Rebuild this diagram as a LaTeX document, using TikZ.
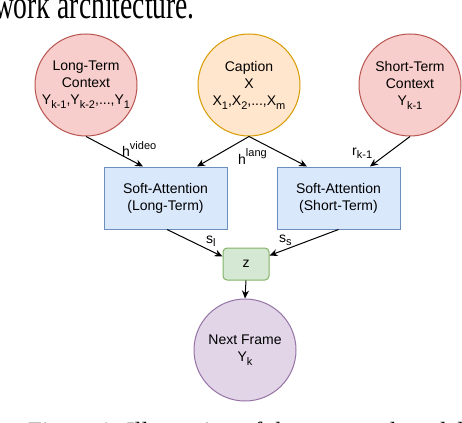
\documentclass[tikz,border=0pt]{standalone}
\usepackage{fontspec}
\setmainfont{Liberation Sans}
\newfontfamily\capfont{Liberation Serif}
\usetikzlibrary{arrows.meta}
\definecolor{redfill}{HTML}{F8CECC}
\definecolor{redline}{HTML}{B85450}
\definecolor{orafill}{HTML}{FFE6CC}
\definecolor{oraline}{HTML}{D79B00}
\definecolor{bluefill}{HTML}{DAE8FC}
\definecolor{blueline}{HTML}{6C8EBF}
\definecolor{grnfill}{HTML}{D5E8D4}
\definecolor{grnline}{HTML}{82B366}
\definecolor{purfill}{HTML}{E1D5E7}
\definecolor{purline}{HTML}{9673A6}
\newcommand\sbs[1]{\raisebox{-0.28em}{\fontsize{11}{11}\selectfont #1}}
\newcommand\sps[1]{\raisebox{0.5em}{\fontsize{11}{11}\selectfont #1}}
\begin{document}
\begin{tikzpicture}[x=1pt,y=-1pt,
  every node/.style={font=\fontsize{14}{17}\selectfont, text=black},
  circ/.style={circle, line width=1pt, minimum size=102pt, inner sep=0pt, align=center},
  abox/.style={rectangle, draw=blueline, fill=bluefill, line width=1pt, minimum width=123pt, minimum height=62pt, inner sep=0pt, align=center},
  zbox/.style={rectangle, rounded corners=4pt, draw=grnline, fill=grnfill, line width=1pt, minimum width=46pt, minimum height=32pt, inner sep=0pt},
  lbl/.style={anchor=base west, inner sep=0pt},
  arr/.style={-{Stealth[length=8pt,width=7pt]}, line width=1pt, black},
  captxt/.style={inner sep=0pt}
]
\useasboundingbox (0,0) rectangle (462,422);
% cropped surrounding text
\node[captxt, anchor=base east, font=\capfont\fontsize{27.6}{28}\selectfont] (toptext) at (195,18.5) {\scalebox{1}[1.45]{work architecture.}};
\node[captxt, anchor=base west, font=\capfont\fontsize{24.8}{25}\selectfont] (bottext) at (28,439) {Figure 1: Illustration of the proposed model};
% circles
\node[circ, draw=redline, fill=redfill] (lt) at (86,85) {Long-Term\\Context\\Y\sbs{k-1},Y\sbs{k-2},...,Y\sbs{1}};
\node[circ, draw=oraline, fill=orafill] (cap) at (249,85) {Caption\\X\\X\sbs{1},X\sbs{2},...,X\sbs{m}};
\node[circ, draw=redline, fill=redfill] (st) at (410,85) {Short-Term\\Context\\Y\sbs{k-1}};
% boxes
\node[abox] (lb) at (165.5,198) {Soft-Attention\\(Long-Term)};
\node[abox] (sb) at (338.5,198) {Soft-Attention\\(Short-Term)};
\node[zbox] (z) at (246,264) {z};
\node[circ, draw=purline, fill=purfill] (nf) at (245,350) {Next Frame\\Y\sbs{k}};
% connectors
\draw[arr] (lt.south) -- ([xshift=-22.5pt]lb.north);
\draw[arr] (cap.south) -- ([xshift=31.5pt]lb.north);
\draw[arr] (cap.south) -- ([xshift=-31.5pt]sb.north);
\draw[arr] (st.south) -- ([xshift=31.5pt]sb.north);
\draw[arr] ([xshift=1.5pt]lb.south) -- ([yshift=-9pt]z.north west);
\draw[arr] (sb.south) -- ([yshift=-8pt]z.north east);
\draw[arr] (z.south) -- (nf.north);
% labels
\node[lbl] (hv) at (122,157) {h\sps{video}};
\node[lbl] (hl) at (238,164) {h\sps{lang}};
\node[lbl] (rk) at (352,155) {r\sbs{k-1}};
\node[lbl] (sl) at (206,243) {s\sbs{l}};
\node[lbl] (ss) at (279,242) {s\sbs{s}};
\end{tikzpicture}
\end{document}
